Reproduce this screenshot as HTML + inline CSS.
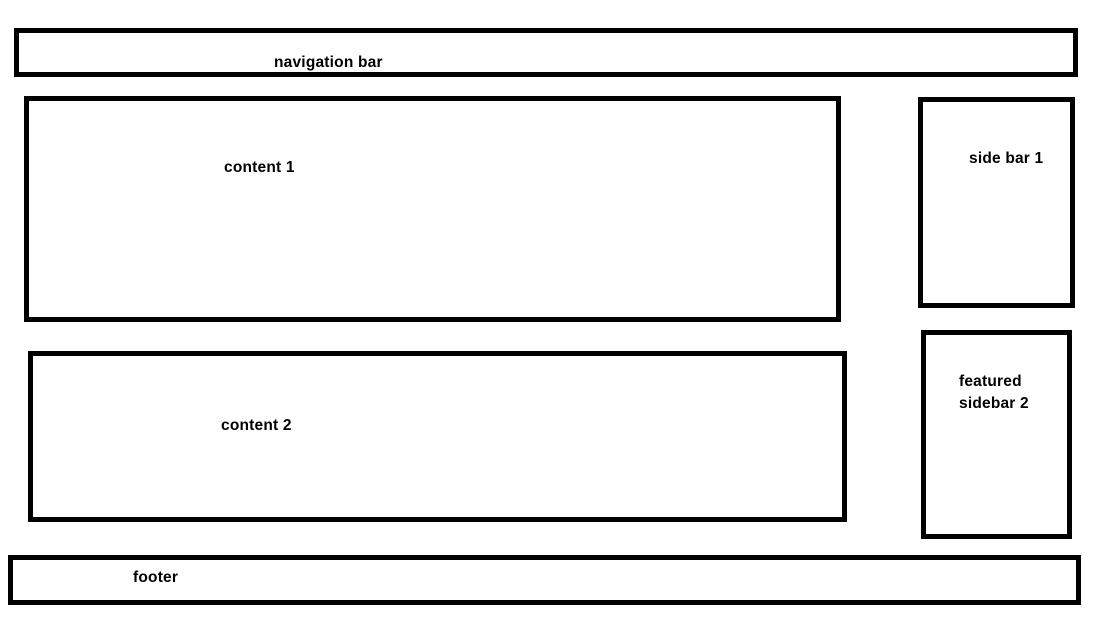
<!DOCTYPE html>
<html><head><style>
body{margin:0;width:1114px;height:622px;background:#fff;position:relative;overflow:hidden;font-family:"Liberation Sans",sans-serif;}
.b{position:absolute;border:5px solid #000;box-sizing:border-box;}
.t{position:absolute;font-weight:bold;font-size:15.5px;line-height:22px;color:#000;white-space:nowrap;letter-spacing:0.2px;}
</style></head><body>
<div class="b" style="left:14px;top:28px;width:1064px;height:49px"></div>
<div class="b" style="left:24px;top:96px;width:817px;height:226px"></div>
<div class="b" style="left:918px;top:97px;width:157px;height:211px"></div>
<div class="b" style="left:921px;top:330px;width:151px;height:209px"></div>
<div class="b" style="left:28px;top:351px;width:819px;height:171px"></div>
<div class="b" style="left:8px;top:555px;width:1073px;height:50px"></div>
<div class="t" style="left:274px;top:52px">navigation bar</div>
<div class="t" style="left:224px;top:157px">content 1</div>
<div class="t" style="left:969px;top:148px">side bar 1</div>
<div class="t" style="left:959px;top:371px">featured<br>sidebar 2</div>
<div class="t" style="left:221px;top:415px">content 2</div>
<div class="t" style="left:133px;top:567px">footer</div>
</body></html>
